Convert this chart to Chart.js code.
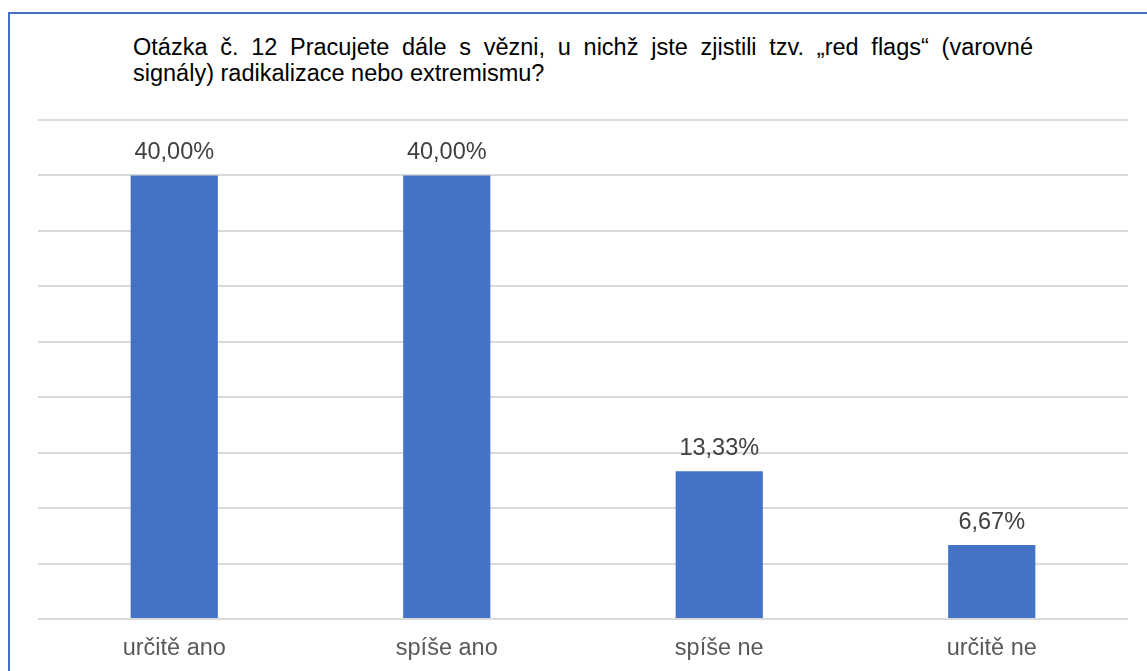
<!DOCTYPE html>
<html>
<head>
<meta charset="utf-8">
<script src="https://cdn.jsdelivr.net/npm/chart.js@4/dist/chart.umd.min.js"></script>
<style>
  html, body { margin: 0; padding: 0; background: #fff; }
  #wrap { position: relative; width: 1147px; height: 671px; overflow: hidden; }
  #frame { position: absolute; left: 8px; top: 12px; width: 1200px; height: 700px; border: 2px solid #4472C4; box-sizing: border-box; }
  #title { position: absolute; left: 133px; top: 34px; width: 900px; font-family: "Liberation Sans", Arial, sans-serif; font-size: 23.5px; line-height: 26px; color: #000; }
  #title .l1 { text-align: justify; text-align-last: justify; white-space: nowrap; }
  #title .l2 { text-align: left; }
  canvas { position: absolute; left: 0; top: 0; }
</style>
</head>
<body>
<div id="wrap">
  <div id="frame"></div>
  <div id="title">
    <div class="l1" style="white-space: normal;">Otázka č. 12 Pracujete dále s vězni, u nichž jste zjistili tzv. „red flags“ (varovné</div>
    <div class="l2">signály) radikalizace nebo extremismu?</div>
  </div>
  <canvas id="c" width="1147" height="671"></canvas>
</div>
<script>
const categories = ["určitě ano", "spíše ano", "spíše ne", "určitě ne"];
const values = [40.00, 40.00, 13.33, 6.67];
const yMax = 45;
const yStep = 5;

const fontFamily = '"Liberation Sans", Arial, sans-serif';

const valueLabels = {
  id: 'valueLabels',
  afterDatasetsDraw(chart) {
    const ctx = chart.ctx;
    const meta = chart.getDatasetMeta(0);
    ctx.save();
    ctx.font = '23.5px ' + fontFamily;
    ctx.fillStyle = '#404040';
    ctx.textAlign = 'center';
    ctx.textBaseline = 'alphabetic';
    meta.data.forEach((bar, i) => {
      const txt = values[i].toFixed(2).replace('.', ',') + '%';
      ctx.fillText(txt, bar.x, bar.y - 16);
    });
    ctx.restore();
  }
};

new Chart(document.getElementById('c'), {
  type: 'bar',
  data: {
    labels: categories,
    datasets: [{
      data: values,
      backgroundColor: '#4472C4',
      borderWidth: 0,
      categoryPercentage: 1,
      barPercentage: 0.32
    }]
  },
  options: {
    responsive: false,
    animation: false,
    layout: { padding: { left: 38, right: 19, top: 120, bottom: 0 } },
    plugins: { legend: { display: false }, tooltip: { enabled: false }, title: { display: false } },
    scales: {
      x: {
        grid: { display: false, drawTicks: false },
        border: { display: false },
        ticks: { color: '#595959', font: { family: fontFamily, size: 23.5 }, padding: 15, maxRotation: 0 },
        afterFit(scale) { scale.height = 52; }
      },
      y: {
        min: 0, max: yMax,
        ticks: { display: false, stepSize: yStep },
        grid: { color: '#d9d9d9', lineWidth: 2, drawTicks: false },
        border: { display: false },
        afterFit(scale) { scale.width = 0; }
      }
    }
  },
  plugins: [valueLabels]
});
</script>
</body>
</html>
